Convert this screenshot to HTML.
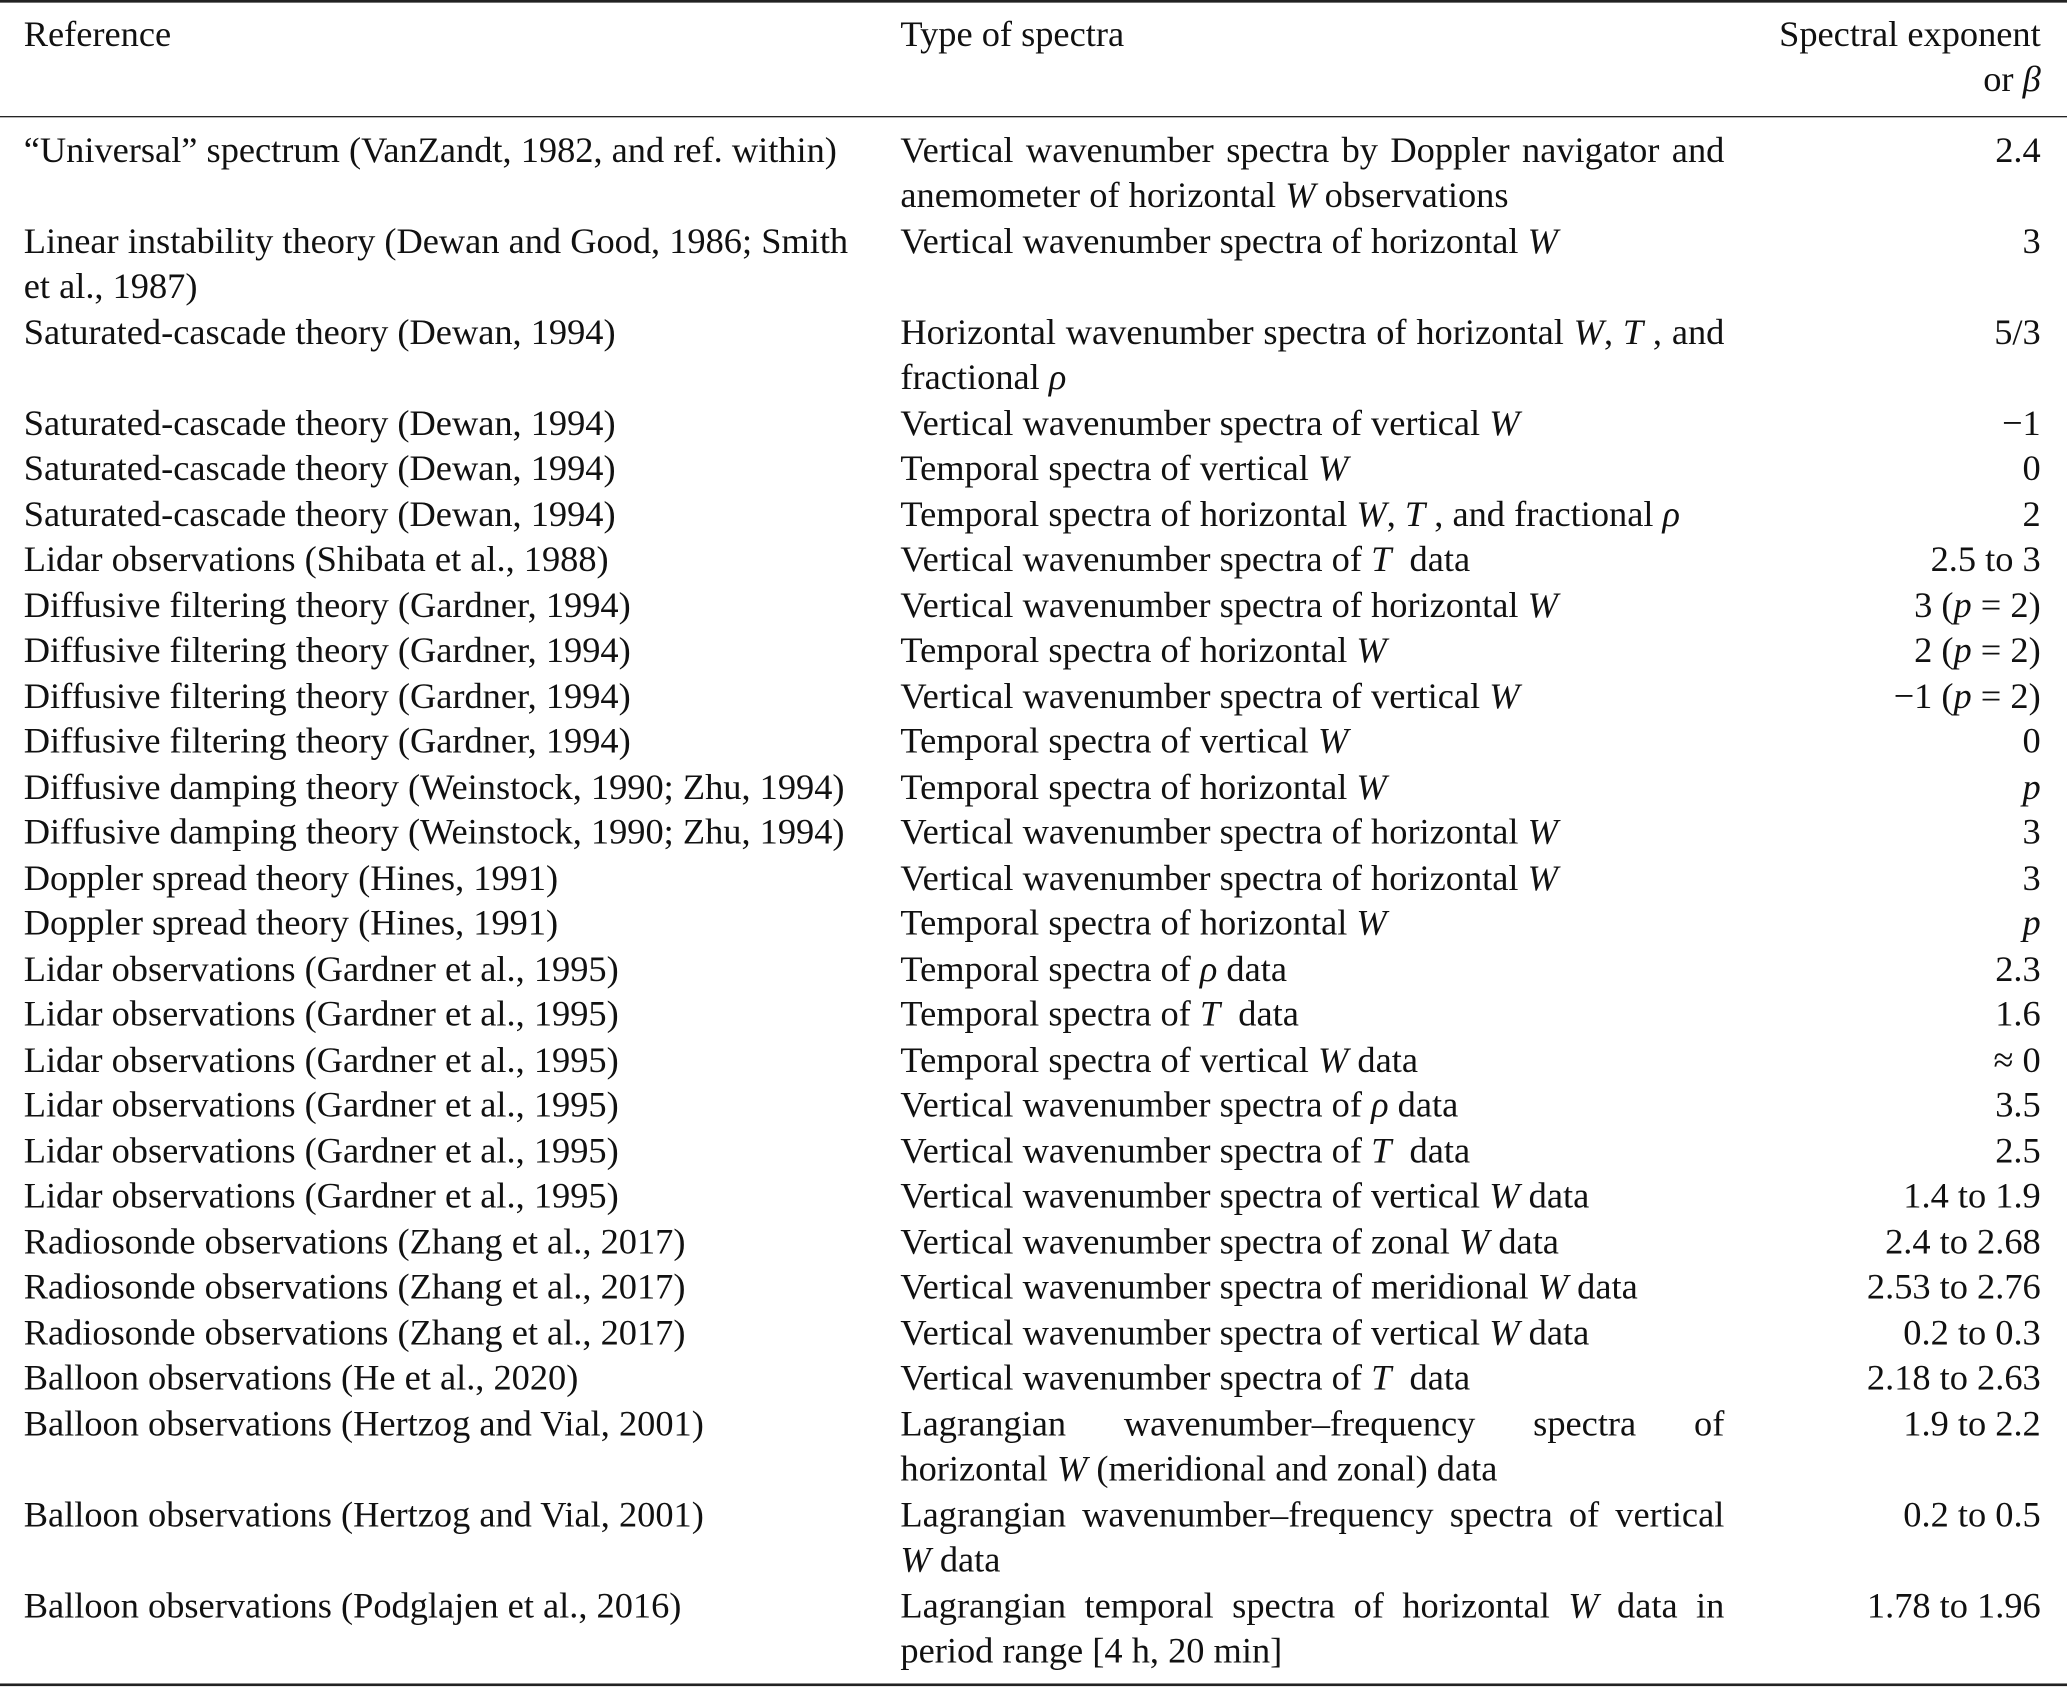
<!DOCTYPE html>
<html><head><meta charset="utf-8"><style>
html,body{margin:0;padding:0;background:#fff;width:2067px;height:1688px;overflow:hidden}
#c{position:absolute;left:0;top:0;width:1568px;height:1281px;transform:scale(1.3183);transform-origin:0 0;font-family:"Liberation Serif",serif;font-size:27.6px;color:#111;line-height:34.5px}
.r{position:absolute;left:0;width:1568px;height:1.6px;background:#222}
.row{position:absolute;left:0;width:1568px}
.a{position:absolute;left:18px;white-space:nowrap}
.b{position:absolute;left:683px;width:625px}
.b div{white-space:nowrap}
.j{text-align:justify;text-align-last:justify}
.c{position:absolute;right:20px;text-align:right;white-space:nowrap}
i{font-style:italic}
</style></head><body><div id="c">
<div class="r" style="top:0"></div>
<div class="r" style="top:87.5px"></div>
<div class="r" style="top:1277px"></div>
<div class="row" style="top:8.75px"><div class="a">Reference</div><div class="b"><div>Type of spectra</div></div><div class="c">Spectral exponent<br>or <i>β</i></div></div>
<div id="rows"></div>
</div>
<script>
var R=[
["“Universal” spectrum (VanZandt, 1982, and ref. within)",["Vertical wavenumber spectra by Doppler navigator and","anemometer of horizontal <i>W</i> observations"],"2.4"],
["Linear instability theory (Dewan and Good, 1986; Smith<br>et al., 1987)",["Vertical wavenumber spectra of horizontal <i>W</i>"],"3"],
["Saturated-cascade theory (Dewan, 1994)",["Horizontal wavenumber spectra of horizontal <i>W</i>, <i>T</i> , and","fractional <i>ρ</i>"],"5/3"],
["Saturated-cascade theory (Dewan, 1994)",["Vertical wavenumber spectra of vertical <i>W</i>"],"−1"],
["Saturated-cascade theory (Dewan, 1994)",["Temporal spectra of vertical <i>W</i>"],"0"],
["Saturated-cascade theory (Dewan, 1994)",["Temporal spectra of horizontal <i>W</i>, <i>T</i> , and fractional <i>ρ</i>"],"2"],
["Lidar observations (Shibata et al., 1988)",["Vertical wavenumber spectra of <i>T</i>&nbsp; data"],"2.5 to 3"],
["Diffusive filtering theory (Gardner, 1994)",["Vertical wavenumber spectra of horizontal <i>W</i>"],"3 (<i>p</i> = 2)"],
["Diffusive filtering theory (Gardner, 1994)",["Temporal spectra of horizontal <i>W</i>"],"2 (<i>p</i> = 2)"],
["Diffusive filtering theory (Gardner, 1994)",["Vertical wavenumber spectra of vertical <i>W</i>"],"−1 (<i>p</i> = 2)"],
["Diffusive filtering theory (Gardner, 1994)",["Temporal spectra of vertical <i>W</i>"],"0"],
["Diffusive damping theory (Weinstock, 1990; Zhu, 1994)",["Temporal spectra of horizontal <i>W</i>"],"<i>p</i>"],
["Diffusive damping theory (Weinstock, 1990; Zhu, 1994)",["Vertical wavenumber spectra of horizontal <i>W</i>"],"3"],
["Doppler spread theory (Hines, 1991)",["Vertical wavenumber spectra of horizontal <i>W</i>"],"3"],
["Doppler spread theory (Hines, 1991)",["Temporal spectra of horizontal <i>W</i>"],"<i>p</i>"],
["Lidar observations (Gardner et al., 1995)",["Temporal spectra of <i>ρ</i> data"],"2.3"],
["Lidar observations (Gardner et al., 1995)",["Temporal spectra of <i>T</i>&nbsp; data"],"1.6"],
["Lidar observations (Gardner et al., 1995)",["Temporal spectra of vertical <i>W</i> data"],"≈ 0"],
["Lidar observations (Gardner et al., 1995)",["Vertical wavenumber spectra of <i>ρ</i> data"],"3.5"],
["Lidar observations (Gardner et al., 1995)",["Vertical wavenumber spectra of <i>T</i>&nbsp; data"],"2.5"],
["Lidar observations (Gardner et al., 1995)",["Vertical wavenumber spectra of vertical <i>W</i> data"],"1.4 to 1.9"],
["Radiosonde observations (Zhang et al., 2017)",["Vertical wavenumber spectra of zonal <i>W</i> data"],"2.4 to 2.68"],
["Radiosonde observations (Zhang et al., 2017)",["Vertical wavenumber spectra of meridional <i>W</i> data"],"2.53 to 2.76"],
["Radiosonde observations (Zhang et al., 2017)",["Vertical wavenumber spectra of vertical <i>W</i> data"],"0.2 to 0.3"],
["Balloon observations (He et al., 2020)",["Vertical wavenumber spectra of <i>T</i>&nbsp; data"],"2.18 to 2.63"],
["Balloon observations (Hertzog and Vial, 2001)",["Lagrangian wavenumber–frequency spectra of","horizontal <i>W</i> (meridional and zonal) data"],"1.9 to 2.2"],
["Balloon observations (Hertzog and Vial, 2001)",["Lagrangian wavenumber–frequency spectra of vertical","<i>W</i> data"],"0.2 to 0.5"],
["Balloon observations (Podglajen et al., 2016)",["Lagrangian temporal spectra of horizontal <i>W</i> data in","period range [4 h, 20 min]"],"1.78 to 1.96"]
];
var h="",y=96.75;
R.forEach(function(r){
 var n=Math.max(r[1].length,r[0].indexOf("<br>")>=0?2:1);
 var b=r[1].map(function(l,i){return '<div'+(i<r[1].length-1?' class="j"':'')+'>'+l+'</div>'}).join("");
 h+='<div class="row" style="top:'+y+'px"><div class="a">'+r[0]+'</div><div class="b">'+b+'</div><div class="c">'+r[2]+'</div></div>';
 y+=n*34.5;
});
document.getElementById("rows").innerHTML=h;
</script>
</body></html>
